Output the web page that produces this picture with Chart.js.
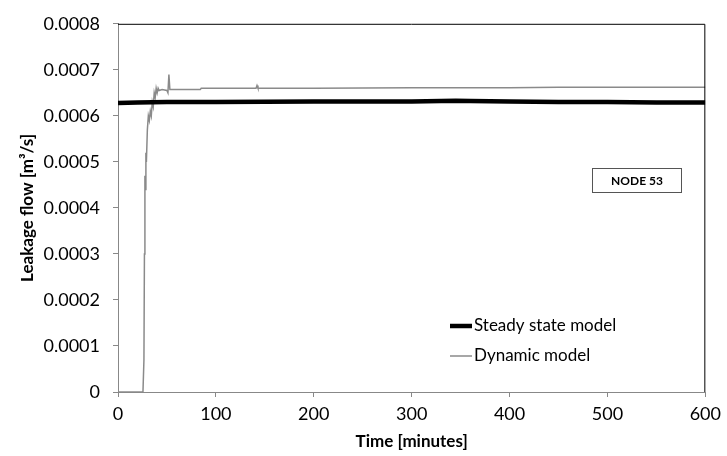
<!DOCTYPE html>
<html>
<head>
<meta charset="utf-8">
<script src="https://cdn.jsdelivr.net/npm/chart.js@4"></script>
<style>
  html, body { margin: 0; padding: 0; background: #fff; }
  #wrap { width: 727px; height: 456px; }
</style>
</head>
<body>
<div id="wrap"><canvas id="chart" width="727" height="456"></canvas></div>
<script>
// time in minutes, flow in m3/s
const dynamicTimes = [0, 25.5, 26.5, 27, 27.5, 28, 28.5, 29, 30, 31, 32, 33, 34, 35, 36, 37, 38, 39, 40, 41, 42, 45, 50, 51, 52, 53, 84, 85, 141, 142, 143, 200, 300, 400, 450, 500, 550, 600];
const dynamicValues = [0, 0, 0.00007, 0.00030, 0.00047, 0.00044, 0.00052, 0.00050, 0.00057, 0.00060, 0.00059, 0.00061, 0.00060, 0.00063, 0.00062, 0.00065, 0.00064, 0.00066, 0.00065, 0.00066, 0.000655, 0.000657, 0.000655, 0.00065, 0.00069, 0.000657, 0.000657, 0.00066, 0.00066, 0.000666, 0.00066, 0.00066, 0.000661, 0.000661, 0.000662, 0.000662, 0.000662, 0.000662];

const steadyTimes = [0, 20, 50, 100, 200, 300, 330, 345, 360, 400, 450, 500, 550, 600];
const steadyValues = [0.000628, 0.000629, 0.00063, 0.00063, 0.000631, 0.000631, 0.000632, 0.000633, 0.000632, 0.000631, 0.00063, 0.00063, 0.000629, 0.000629];

const seriesNames = ['Steady state model', 'Dynamic model'];
const xTicks = [0, 100, 200, 300, 400, 500, 600];
const nodeLabel = 'NODE 53';

const FONT = 'Lato, "Open Sans", sans-serif';

const toPoints = (xs, ys) => xs.map((x, i) => ({ x: x, y: ys[i] }));

const frameAndExtras = {
    id: 'frameAndExtras',
    afterDraw(chart) {
        const ctx = chart.ctx;
        const a = chart.chartArea;
        ctx.save();
        // top and right frame
        ctx.strokeStyle = '#000';
        ctx.lineWidth = 1;
        ctx.beginPath();
        ctx.moveTo(a.left, a.top + 0.5);
        ctx.lineTo(a.right - 0.5, a.top + 0.5);
        ctx.lineTo(a.right - 0.5, a.bottom);
        ctx.stroke();

        // node label box
        ctx.fillStyle = '#fff';
        ctx.fillRect(592, 168, 90, 24);
        ctx.strokeStyle = '#555';
        ctx.strokeRect(592.5, 168.5, 89, 24);
        ctx.fillStyle = '#000';
        ctx.font = 'bold 12px ' + FONT;
        ctx.textAlign = 'center';
        ctx.textBaseline = 'middle';
        ctx.fillText(nodeLabel, 637, 181);

        // legend inside plot
        const rows = [326, 356];
        chart.data.datasets.forEach((ds, i) => {
            const y = rows[i];
            ctx.strokeStyle = ds.borderColor;
            ctx.lineWidth = ds.borderWidth;
            ctx.beginPath();
            ctx.moveTo(450, y);
            ctx.lineTo(472, y);
            ctx.stroke();
            ctx.fillStyle = '#000';
            ctx.font = '17px ' + FONT;
            ctx.textAlign = 'left';
            ctx.textBaseline = 'middle';
            ctx.fillText(ds.label, 474, y);
        });
        ctx.restore();
    }
};

new Chart(document.getElementById('chart').getContext('2d'), {
    type: 'line',
    data: {
        datasets: [{
            label: seriesNames[0],
            data: toPoints(steadyTimes, steadyValues),
            borderColor: '#000',
            borderWidth: 4.5,
            pointRadius: 0,
            tension: 0
        }, {
            label: seriesNames[1],
            data: toPoints(dynamicTimes, dynamicValues),
            borderColor: '#8a8a8a',
            borderWidth: 1.5,
            pointRadius: 0,
            tension: 0
        }]
    },
    options: {
        responsive: false,
        animation: false,
        layout: { padding: { top: 16, right: 21, left: 0, bottom: 0 } },
        plugins: {
            legend: { display: false },
            tooltip: { enabled: false }
        },
        scales: {
            x: {
                type: 'linear',
                min: 0,
                max: 600,
                afterBuildTicks: (scale) => { scale.ticks = xTicks.map(v => ({ value: v })); },
                afterFit: (scale) => { scale.height = 64; },
                grid: { drawOnChartArea: false, drawTicks: true, tickLength: 5, color: '#888' },
                border: { display: true, color: '#888' },
                ticks: { color: '#000', font: { family: FONT, size: 18 }, padding: 6, maxRotation: 0 },
                title: { display: true, text: 'Time [minutes]', color: '#000', font: { family: FONT, size: 17, weight: 'bold' }, padding: { top: 0, bottom: 4 } }
            },
            y: {
                min: 0,
                max: 0.0008,
                afterFit: (scale) => { scale.width = 118; },
                grid: { drawOnChartArea: false, drawTicks: true, tickLength: 5, color: '#888' },
                border: { display: true, color: '#888' },
                ticks: {
                    stepSize: 0.0001,
                    color: '#000',
                    font: { family: FONT, size: 18 },
                    padding: 13,
                    callback: (v) => v === 0 ? '0' : Number(v).toFixed(4)
                },
                title: { display: true, text: 'Leakage flow [m³/s]', color: '#000', font: { family: FONT, size: 17, weight: 'bold' }, padding: { top: 17, bottom: 0 } }
            }
        }
    },
    plugins: [frameAndExtras]
});
</script>
</body>
</html>
